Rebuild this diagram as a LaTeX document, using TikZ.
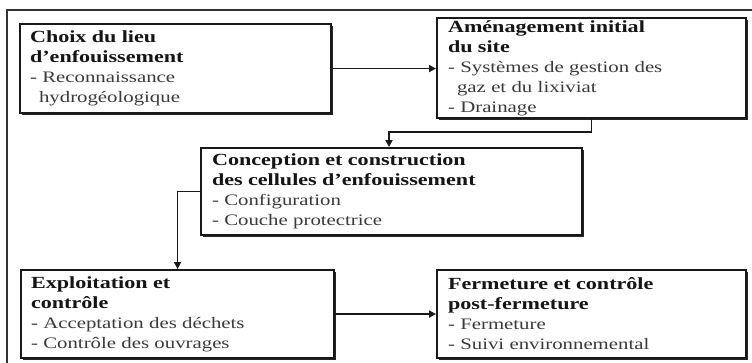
\documentclass[tikz,border=0pt]{standalone}
\usepackage{fontspec}
\setmainfont[FakeStretch=1.3]{Liberation Serif}
\usetikzlibrary{arrows.meta,shadows}
\definecolor{hd}{HTML}{151515}
\definecolor{it}{HTML}{3A3A3A}
\newcommand{\hd}[1]{{\color{hd}\bfseries\fontsize{17}{20}\selectfont #1}}
\newcommand{\ind}{\hspace*{9pt}}
\begin{document}
\begin{tikzpicture}[x=1pt,y=-1pt,
  stagebox/.style={draw=black!90, line width=2.1pt, fill=white, anchor=north west,
    align=left, inner xsep=10pt, inner ysep=0pt, text=it,
    font=\fontsize{16}{20}\selectfont,
    drop shadow={shadow xshift=2pt, shadow yshift=-2pt, fill=black!85, opacity=1}},
  arr/.style={draw=black!90, line width=1.7pt, -{Triangle[length=7pt,width=7pt]}}]
\useasboundingbox (0,0) rectangle (752,362);
\fill[white] (0,0) rectangle (752,362);
\draw[black!80, line width=1.4pt] (7,366) -- (7,10) -- (756,10);
\node[stagebox, minimum width=311pt, minimum height=89pt, text width=291pt] (b1) at (19,23)
  {\hd{Choix du lieu\\d’enfouissement}\\- Reconnaissance\\\ind hydrogéologique};
\node[stagebox, minimum width=309pt, minimum height=100pt, text width=287pt, inner xsep=11pt] (b2) at (436,17)
  {\hd{Aménagement initial\\du site}\\- Systèmes de gestion des\\\ind gaz et du lixiviat\\- Drainage};
\node[stagebox, minimum width=381pt, minimum height=87pt, text width=359pt, inner xsep=11pt] (b3) at (200,147)
  {\hd{Conception et construction\\des cellules d’enfouissement}\\- Configuration\\- Couche protectrice};
\node[stagebox, minimum width=313pt, minimum height=88pt, text width=293pt] (b4) at (20,269)
  {\hd{Exploitation et\\contrôle}\\- Acceptation des déchets\\- Contrôle des ouvrages};
\node[stagebox, minimum width=309pt, minimum height=88pt, text width=287pt, inner xsep=11pt] (b5) at (436,269)
  {\hd{Fermeture et contrôle\\post-fermeture}\\- Fermeture\\- Suivi environnemental};
\coordinate (k1) at (389,132);
\draw[arr] (b1.east) -- (b1.east -| b2.west);
\draw[arr] (b2.south) |- (k1) -- (k1 |- b3.north);
\draw[arr] (b3.west) -| (b4.north);
\draw[arr] (b4.east) -- (b4.east -| b5.west);
\end{tikzpicture}
\end{document}
